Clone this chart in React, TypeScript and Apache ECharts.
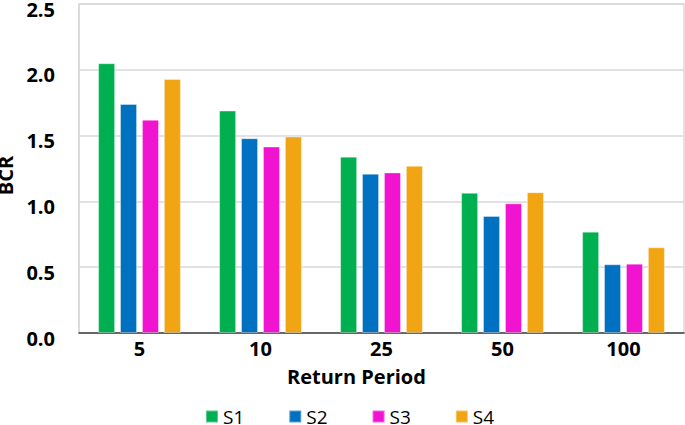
import React, { useEffect, useRef } from "react";
import * as echarts from "echarts";

const categories = ["5", "10", "25", "50", "100"];
const seriesNames = ["S1", "S2", "S3", "S4"];
const s1 = [2.05, 1.69, 1.34, 1.065, 0.77];
const s2 = [1.74, 1.48, 1.21, 0.89, 0.522];
const s3 = [1.62, 1.417, 1.22, 0.985, 0.527];
const s4 = [1.93, 1.493, 1.27, 1.07, 0.651];
const colors = ["#00B050", "#0070C0", "#F013D0", "#F2A512"];
const FONT = "'Open Sans', sans-serif";

export default function App() {
  const ref = useRef<HTMLDivElement>(null);
  useEffect(() => {
    if (!ref.current) return;
    const chart = echarts.init(ref.current, null, { renderer: "svg" });
    const data = [s1, s2, s3, s4];
    chart.setOption({
      animation: false,
      textStyle: { fontFamily: FONT },
      grid: {
        left: 79,
        right: 1,
        top: 4,
        bottom: 92,
        outerBoundsMode: "none",
        containLabel: false,
        show: true,
        borderColor: "#d9d9d9",
        borderWidth: 1.5,
      },
      legend: {
        data: seriesNames,
        left: 200,
        top: 402,
        icon: "rect",
        itemWidth: 12,
        itemHeight: 12,
        itemGap: 44,
        textStyle: { fontFamily: FONT, fontSize: 19, color: "#000" },
      },
      graphic: [
        {
          type: "text",
          left: 287,
          top: 366,
          style: {
            text: "Return Period",
            font: `bold 20px ${FONT}`,
            fill: "#000",
          },
        },
      ],
      xAxis: {
        type: "category",
        data: categories,
        axisTick: { show: false },
        axisLine: { lineStyle: { color: "#404040", width: 1.5 } },
        axisLabel: {
          fontFamily: FONT,
          fontSize: 20,
          fontWeight: "bold",
          color: "#000",
          margin: 5,
        },
      },
      yAxis: {
        type: "value",
        min: 0,
        max: 2.5,
        interval: 0.5,
        name: "BCR",
        nameLocation: "middle",
        nameGap: 56,
        nameTextStyle: {
          fontFamily: FONT,
          fontSize: 20,
          fontWeight: "bold",
          color: "#000",
          padding: [0, 14, 0, 0],
        },
        axisLine: { show: true, lineStyle: { color: "#d9d9d9", width: 1.5 } },
        axisTick: { show: false },
        splitLine: { lineStyle: { color: "#d9d9d9", width: 1.5 } },
        axisLabel: {
          fontFamily: FONT,
          fontSize: 20,
          fontWeight: "bold",
          color: "#000",
          margin: 24,
          verticalAlign: "top",
          lineHeight: 10,
          formatter: (v: number) => v.toFixed(1),
        },
      },
      series: seriesNames.map((name, i) => ({
        name,
        type: "bar",
        data: data[i],
        barWidth: 17,
        barGap: "29%",
        itemStyle: {
          color: colors[i],
          borderColor: "rgba(255,255,255,0.35)",
          borderWidth: 1,
        },
      })),
    });
    return () => chart.dispose();
  }, []);
  return (
    <div
      ref={ref}
      style={{ position: "absolute", left: 0, top: 0, width: 685, height: 425 }}
    />
  );
}
